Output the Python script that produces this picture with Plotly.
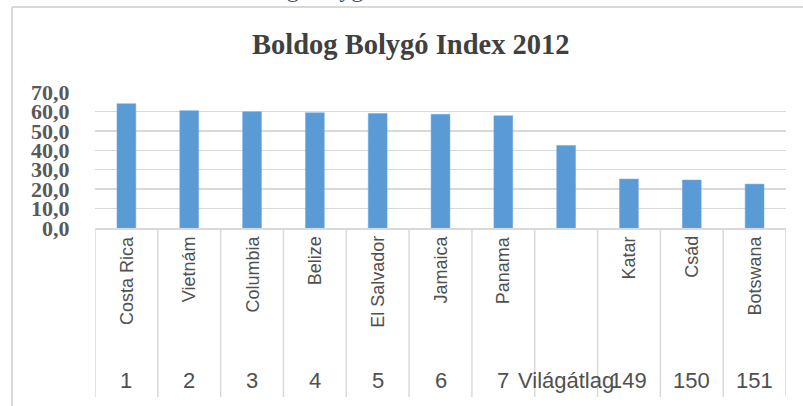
import plotly.graph_objects as go

# ---- data ----
countries = ["Costa Rica", "Vietnám", "Columbia", "Belize", "El Salvador",
             "Jamaica", "Panama", "", "Katar", "Csád", "Botswana"]
ranks = ["1", "2", "3", "4", "5", "6", "7", "Világátlag", "149", "150", "151"]
values = [64.0, 60.4, 59.8, 59.3, 58.9, 58.5, 57.8, 42.5, 25.2, 24.7, 22.6]
y_ticks = [0, 10, 20, 30, 40, 50, 60, 70]
title_text = "Boldog Bolygó Index 2012"

W, H = 803, 406
L, R, T, B = 95, 17, 92, 178
PH = H - T - B  # plot height in px
PW = W - L - R


def py(p):  # pixel y -> paper y
    return (H - B - p) / PH


def px(p):  # pixel x -> paper x
    return (p - L) / PW


idx = list(range(len(values)))

fig = go.Figure()
fig.add_trace(go.Bar(
    x=idx, y=values, width=0.3,
    marker=dict(color="#5b9bd5", line=dict(color="#6fa8dc", width=0.5)),
    hoverinfo="skip",
))

grey = "#595959"
line_col = "#d9d9d9"

annotations = []
for i, c in enumerate(countries):
    if c:
        annotations.append(dict(
            x=i, xref="x", y=py(234), yref="paper", text=c, showarrow=False,
            textangle=-90, xanchor="center", yanchor="top",
            font=dict(family="Liberation Sans, Arial, sans-serif", size=18, color="#505050"),
        ))
for i, r in enumerate(ranks):
    annotations.append(dict(
        x=i, xref="x", y=py(380), yref="paper", text=r, showarrow=False,
        xanchor="center", yanchor="middle",
        font=dict(family="Liberation Sans, Arial, sans-serif", size=22, color="#505050"),
    ))
# title
annotations.append(dict(
    x=px(411), xref="paper", y=py(45), yref="paper", text="<b>" + title_text + "</b>",
    showarrow=False, xanchor="center", yanchor="middle",
    font=dict(family="Liberation Serif, Times New Roman, serif", size=28.5, color="#404040"),
))
# cut-off caption fragment at the very top of the screenshot
annotations.append(dict(
    x=px(226), xref="paper", y=py(4), yref="paper", text="Boldog Bolygó",
    showarrow=False, xanchor="left", yanchor="bottom",
    font=dict(family="Liberation Serif, Times New Roman, serif", size=24, color="#44546a"),
))

shapes = []
# category table vertical lines
for i in range(len(values) + 1):
    shapes.append(dict(type="line", xref="x", yref="paper",
                       x0=i - 0.5, x1=i - 0.5, y0=0, y1=py(397),
                       line=dict(color=line_col, width=1.5)))
# chart border (left and top)
shapes.append(dict(type="line", xref="paper", yref="paper",
                   x0=px(12), x1=px(12), y0=py(7), y1=py(410),
                   line=dict(color=line_col, width=2)))
shapes.append(dict(type="line", xref="paper", yref="paper",
                   x0=px(12), x1=px(810), y0=py(7), y1=py(7),
                   line=dict(color=line_col, width=2)))

fig.update_layout(
    width=W, height=H,
    margin=dict(l=L, r=R, t=T, b=B, pad=0),
    paper_bgcolor="white", plot_bgcolor="white",
    showlegend=False,
    separators=", ",
    annotations=annotations,
    shapes=shapes,
    xaxis=dict(range=[-0.5, len(values) - 0.5], showticklabels=False,
               showgrid=False, zeroline=False, showline=True,
               linecolor=line_col, linewidth=1.5, ticks=""),
    yaxis=dict(range=[0, 70], tickvals=y_ticks, tickformat=".1f",
               showgrid=True, gridcolor=line_col, gridwidth=1.5,
               zeroline=False, showline=False,
               ticks="outside", ticklen=20, tickcolor="rgba(0,0,0,0)",
               tickfont=dict(family="Liberation Serif, Times New Roman, serif",
                             size=22, color=grey, weight="bold")),
)

fig.write_html("out.html", config={"displayModeBar": False, "staticPlot": True},
               post_script="document.body.style.margin='0';document.body.style.overflow='hidden';")
